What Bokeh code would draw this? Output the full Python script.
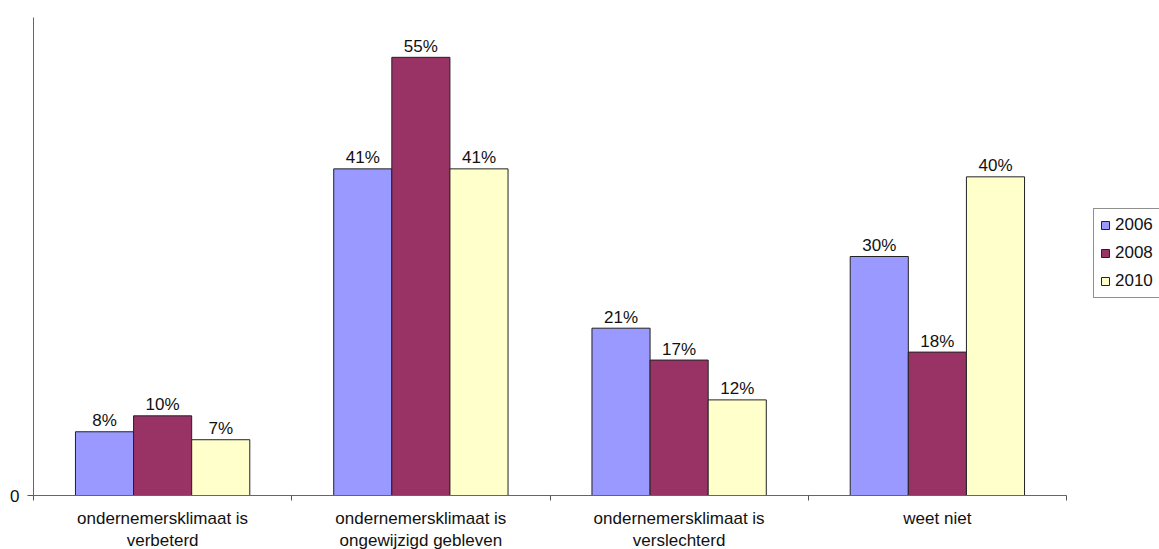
from bokeh.plotting import figure
from bokeh.models import (ColumnDataSource, FixedTicker, Legend, LegendItem,
                          Range1d)
from bokeh.embed import file_html
from bokeh.resources import INLINE
from bokeh.core.properties import value

# Survey answers per year (percent of respondents)
categories = [
    "ondernemersklimaat is\nverbeterd",
    "ondernemersklimaat is\nongewijzigd gebleven",
    "ondernemersklimaat is\nverslechterd",
    "weet niet",
]
years = ["2006", "2008", "2010"]
values_2006 = [8, 41, 21, 30]
values_2008 = [10, 55, 17, 18]
values_2010 = [7, 41, 12, 40]

colors = ["#9999FF", "#993366", "#FFFFCC"]
series = [values_2006, values_2008, values_2010]

FONT = "Liberation Sans"
FS = "17px"
BAR_W = 0.225

p = figure(
    width=1159, height=549,
    frame_width=1033, frame_height=478,
    min_border_left=33, min_border_right=93,
    min_border_top=17, min_border_bottom=54,
    x_range=Range1d(0, len(categories)), y_range=Range1d(0, 60),
    output_backend="svg", toolbar_location=None,
)
p.outline_line_color = None
p.xgrid.visible = False
p.ygrid.visible = False
p.background_fill_color = "white"
p.border_fill_color = "white"

centers = [i + 0.5 for i in range(len(categories))]
renderers = []
for k, (yr, vals, col) in enumerate(zip(years, series, colors)):
    xs = [c + (k - 1) * BAR_W for c in centers]
    src = ColumnDataSource(dict(
        x=xs, top=vals, lab=[f"{v}%" for v in vals]))
    r = p.vbar(x="x", top="top", width=BAR_W, bottom=0, source=src,
               fill_color=col, line_color="#222222", line_width=1)
    renderers.append((yr, r))
    p.text(x="x", y="top", text="lab", source=src,
           text_align="center", text_baseline="alphabetic", y_offset=-11,
           text_font=value(FONT), text_font_size=FS, text_color="#111111")

# x axis: ticks at category boundaries, labels at category centres
xa = p.xaxis[0]
xa.ticker = FixedTicker(ticks=centers, minor_ticks=list(range(len(categories) + 1)))
xa.major_label_overrides = {c: lab for c, lab in zip(centers, categories)}
xa.major_tick_line_color = None
xa.minor_tick_in = 0
xa.minor_tick_out = 5
xa.minor_tick_line_color = "#555555"
xa.axis_line_color = "#666666"
xa.major_label_text_font = FONT
xa.major_label_text_font_size = FS
xa.major_label_text_color = "#111111"
xa.major_label_standoff = 7

# y axis: single tick at zero
ya = p.yaxis[0]
ya.ticker = FixedTicker(ticks=[0])
ya.minor_tick_line_color = None
ya.major_tick_in = 0
ya.major_tick_out = 6
ya.major_tick_line_color = "#555555"
ya.axis_line_color = "#666666"
ya.major_label_text_font = FONT
ya.major_label_text_font_size = FS
ya.major_label_text_color = "#111111"
ya.major_label_standoff = 8

legend = Legend(
    items=[LegendItem(label=yr, renderers=[r]) for yr, r in renderers],
    location=(27, 197),
    glyph_width=10, glyph_height=10,
    label_height=20, spacing=8, padding=6, margin=0,
    label_standoff=5,
    label_text_font=FONT, label_text_font_size=FS,
    label_text_color="#111111",
    border_line_color="#222222", border_line_width=1,
    background_fill_color="white",
)
p.add_layout(legend, "right")

open("out.html", "w").write(file_html(p, INLINE))
